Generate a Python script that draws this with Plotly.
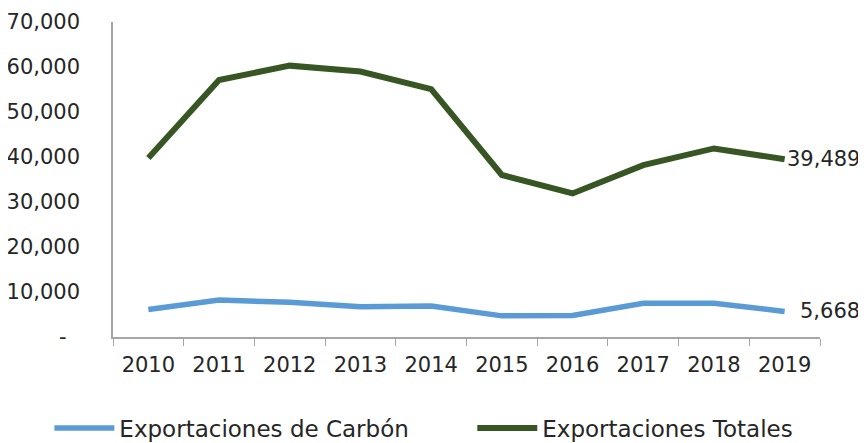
import plotly.graph_objects as go

years = ["2010", "2011", "2012", "2013", "2014", "2015", "2016", "2017", "2018", "2019"]
carbon = [6100, 8200, 7700, 6700, 6900, 4700, 4800, 7500, 7500, 5668]
totales = [39800, 57100, 60300, 59000, 55100, 36000, 31900, 38200, 41900, 39489]

y_ticks = [0, 10000, 20000, 30000, 40000, 50000, 60000, 70000]
y_ticktext = ["-\u00a0\u00a0", "10,000", "20,000", "30,000", "40,000", "50,000", "60,000", "70,000"]

BLUE = "#5B9BD5"
GREEN = "#375623"
FONT = "DejaVu Sans"
GAP = "\u00a0" * 8  # extra room between the two legend entries

fig = go.Figure()

fig.add_trace(go.Scatter(
    name="Exportaciones de Carbón" + GAP,
    x=years, y=carbon,
    mode="lines",
    line_color=BLUE, line_width=5.5,
))

fig.add_trace(go.Scatter(
    name="Exportaciones Totales",
    x=years, y=totales,
    mode="lines",
    line_color=GREEN, line_width=6,
))

# end-of-series value labels (category axis -> position by index)
last = len(years) - 1
fig.add_annotation(x=last, y=totales[-1], text="{:,}".format(totales[-1]),
                   showarrow=False, xanchor="left", xshift=0,
                   font=dict(family=FONT, size=21, color="#262626"))
fig.add_annotation(x=last, y=carbon[-1], text="{:,}".format(carbon[-1]),
                   showarrow=False, xanchor="left", xshift=13,
                   font=dict(family=FONT, size=21, color="#262626"))

# page body adds ~8px offset, so margins are shifted up/left by that much
fig.update_layout(
    width=866, height=443,
    margin=dict(l=105, r=54, t=14, b=114, autoexpand=False),
    plot_bgcolor="white", paper_bgcolor="white",
    font=dict(family=FONT, size=21, color="#262626"),
    showlegend=True,
    legend=dict(orientation="h", x=-0.09, xanchor="left",
                y=-0.289, yanchor="middle",
                font=dict(family=FONT, size=23, color="#262626"),
                itemwidth=60),
)

fig.update_xaxes(
    type="category", range=[-0.5, last + 0.5], automargin=False,
    showline=True, linecolor="#A6A6A6", linewidth=1.5,
    ticks="outside", tickson="boundaries", ticklen=7, tickcolor="#A6A6A6",
    showgrid=False, ticklabelstandoff=8, tickangle=0,
)

fig.update_yaxes(
    range=[0, 70000], automargin=False,
    tickvals=y_ticks, ticktext=y_ticktext,
    showline=True, linecolor="#A6A6A6", linewidth=1.5,
    ticks="", showgrid=False, zeroline=False,
    ticklabelstandoff=27,
)

fig.write_html("out.html")
